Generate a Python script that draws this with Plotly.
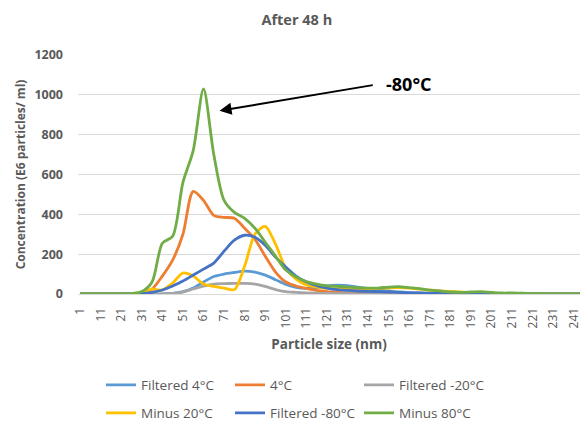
import plotly.graph_objects as go

sizes = list(range(1, 247, 5))  # 1, 6, 11, ... 246 nm

filtered_4c = [0, 0, 0, 0, 0, 0, 0, 0, 0, 3, 12, 30, 60, 88, 100, 108, 115, 110, 95, 72,
               48, 33, 28, 30, 40, 44, 42, 35, 27, 20, 15, 10, 7, 5, 3, 2, 1, 1, 0, 0,
               0, 0, 0, 0, 0, 0, 0, 0, 0, 0]
plus_4c = [0, 0, 0, 0, 0, 0, 2, 25, 90, 170, 300, 515, 470, 395, 385, 380, 330, 275, 190, 110,
           60, 40, 28, 18, 12, 8, 5, 4, 3, 3, 3, 3, 2, 2, 1, 1, 0, 0, 0, 0,
           0, 0, 0, 0, 0, 0, 0, 0, 0, 0]
filtered_m20 = [0, 0, 0, 0, 0, 0, 0, 0, 0, 3, 10, 25, 40, 50, 52, 53, 53, 50, 38, 22,
                12, 8, 5, 4, 3, 2, 2, 1, 1, 1, 0, 0, 0, 0, 0, 0, 0, 0, 0, 0,
                0, 0, 0, 0, 0, 0, 0, 0, 0, 0]
minus_20c = [0, 0, 0, 0, 0, 0, 10, 25, 20, 55, 105, 90, 50, 38, 30, 22, 140, 300, 340, 250,
             130, 75, 45, 35, 28, 25, 25, 25, 25, 28, 30, 32, 30, 25, 20, 15, 12, 10, 6, 3,
             2, 0, 0, 0, 0, 0, 0, 0, 0, 0]
filtered_m80 = [0, 0, 0, 0, 0, 0, 2, 8, 20, 40, 65, 95, 125, 155, 215, 270, 295, 285, 245, 185,
                135, 90, 60, 42, 30, 22, 18, 15, 13, 12, 10, 8, 6, 5, 4, 3, 3, 2, 2, 1,
                0, 0, 0, 0, 0, 0, 0, 0, 0, 0]
minus_80c = [0, 0, 0, 0, 0, 2, 12, 60, 255, 290, 560, 720, 1030, 700, 470, 410, 380, 330, 260, 190,
             120, 85, 62, 50, 42, 38, 35, 32, 30, 30, 35, 37, 32, 27, 20, 15, 10, 8, 10, 12,
             8, 5, 5, 4, 2, 1, 1, 1, 1, 1]

series = [
    ("Filtered 4°C", filtered_4c, "#5B9BD5", "legend"),
    ("4°C", plus_4c, "#ED7D31", "legend"),
    ("Filtered -20°C", filtered_m20, "#A5A5A5", "legend"),
    ("Minus 20°C", minus_20c, "#FFC000", "legend2"),
    ("Filtered -80°C", filtered_m80, "#4472C4", "legend2"),
    ("Minus 80°C", minus_80c, "#70AD47", "legend2"),
]

tick_vals = list(range(1, 242, 10))
tick_text = [str(v) for v in tick_vals]

FONT = "Open Sans"
GREY = "#595959"

fig = go.Figure()
for name, vals, color, lg in series:
    fig.add_trace(go.Scatter(
        x=sizes, y=vals, name=name, mode="lines",
        line=dict(color=color, width=2.8, shape="spline", smoothing=0.8),
        legend=lg,
    ))

legend_common = dict(
    orientation="h", xref="container", yref="container",
    xanchor="left", yanchor="middle", entrywidth=84,
    font=dict(family=FONT, size=13.5, color=GREY),
    bgcolor="rgba(0,0,0,0)", itemwidth=30, tracegroupgap=0,
)

fig.update_layout(
    width=582, height=427,
    margin=dict(l=78, r=0, t=55, b=133),
    paper_bgcolor="white", plot_bgcolor="white",
    font=dict(family=FONT, color=GREY),
    title=dict(text="<b>After 48 h</b>", x=0.51, xref="container", xanchor="center",
               y=1 - 20 / 427, yref="container", yanchor="middle",
               font=dict(family=FONT, size=14.5, color=GREY)),
    xaxis=dict(
        range=[0, 244], tickmode="array", tickvals=tick_vals, ticktext=tick_text,
        tickangle=-90, tickfont=dict(family=FONT, size=12, color=GREY),
        showgrid=False, zeroline=False, showline=True, linecolor="#D9D9D9", linewidth=1,
        ticks="", ticklabelstandoff=8, ticklabeloverflow="allow",
        title=dict(text="<b>Particle size (nm)</b>", standoff=12,
                   font=dict(family=FONT, size=13.5, color=GREY)),
    ),
    yaxis=dict(
        range=[0, 1200], tickvals=[0, 200, 400, 600, 800, 1000, 1200],
        ticktext=["<b>0</b>", "<b>200</b>", "<b>400</b>", "<b>600</b>", "<b>800</b>",
                  "<b>1000</b>", "<b>1200</b>"],
        tickfont=dict(family=FONT, size=12.5, color=GREY),
        showgrid=True, gridcolor="#D9D9D9", gridwidth=1, zeroline=False,
        ticks="", ticklabelstandoff=14,
        title=dict(text="<b>Concentration (E6 particles/ ml)</b>", standoff=6,
                   font=dict(family=FONT, size=12, color=GREY)),
    ),
    legend=dict(x=101 / 582, y=1 - 385 / 427, **legend_common),
    legend2=dict(x=101 / 582, y=1 - 413 / 427, **legend_common),
    showlegend=True,
)

fig.add_annotation(
    x=68.8, y=920, ax=144, ay=1050, xref="x", yref="y", axref="x", ayref="y",
    showarrow=True, arrowhead=2, arrowsize=1.2, arrowwidth=2, arrowcolor="black", text="",
)
fig.add_annotation(
    x=160.7, y=1055, xref="x", yref="y", showarrow=False,
    text="<b>-80°C</b>", font=dict(family=FONT, size=18, color="black"),
)

fig.write_html("out.html")
